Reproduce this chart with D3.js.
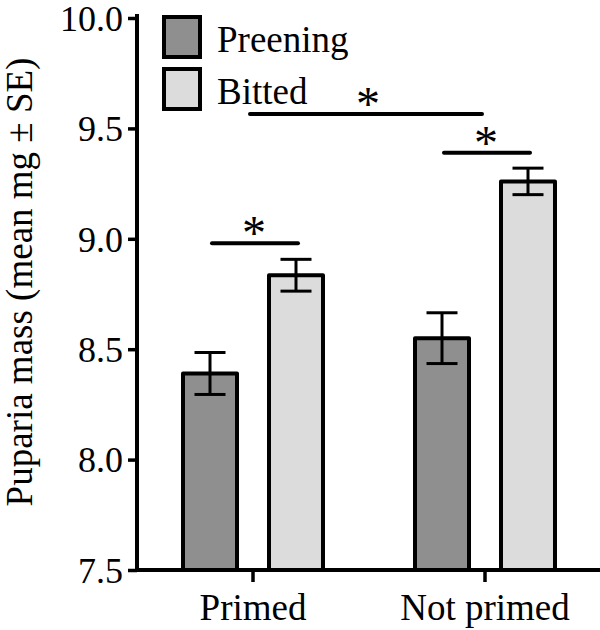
<!DOCTYPE html>
<html>
<head>
<meta charset="utf-8">
<script src="https://cdn.jsdelivr.net/npm/d3@7"></script>
<style>
  html, body { margin: 0; padding: 0; background: #fff; }
  svg { display: block; }
</style>
</head>
<body>
<svg id="chart" width="600" height="630"></svg>
<script>
const groups = ["Primed", "Not primed"];
const series = ["Preening", "Bitted"];
const colors = ["#8f8f8f", "#dcdcdc"];
const preeningMean = [8.39, 8.55];
const preeningSE = [0.095, 0.115];
const bittedMean = [8.835, 9.26];
const bittedSE = [0.072, 0.06];
const yTicks = [7.5, 8.0, 8.5, 9.0, 9.5, 10.0];
const yLabel = "Puparia mass (mean mg \u00b1 SE)";
// significance brackets (level in data units)
const sigFrom = [["Primed", "Preening"], ["Not primed", "Preening"], ["Primed", null]];
const sigTo = [["Primed", "Bitted"], ["Not primed", "Bitted"], ["Not primed", null]];
const sigLevel = [8.98, 9.39, 9.565];

const FONT = '"Liberation Serif", "Times New Roman", Times, serif';
const svg = d3.select("#chart");
const axisX = 137, plotTop = 18, plotBottom = 570, plotRight = 601;

const y = d3.scaleLinear().domain([7.5, 10]).range([plotBottom, plotTop]);
const x0 = d3.scaleBand().domain(groups).range([axisX, plotRight]).paddingInner(0).paddingOuter(0);
const x1 = d3.scaleBand().domain(series).range([0, x0.bandwidth()]).paddingInner(0.372).paddingOuter(0.535);

const data = groups.map((g, i) => ({
  group: g,
  vals: [
    {s: "Preening", m: preeningMean[i], se: preeningSE[i], c: colors[0]},
    {s: "Bitted", m: bittedMean[i], se: bittedSE[i], c: colors[1]}
  ]
}));

const gGroups = svg.selectAll("g.grp").data(data).join("g")
  .attr("class", "grp")
  .attr("transform", d => `translate(${x0(d.group)},0)`);

gGroups.selectAll("rect").data(d => d.vals).join("rect")
  .attr("x", d => x1(d.s))
  .attr("y", d => y(d.m))
  .attr("width", x1.bandwidth())
  .attr("height", d => y(7.5) - y(d.m))
  .attr("fill", d => d.c)
  .attr("stroke", "#000")
  .attr("stroke-width", 4)
  .attr("stroke-linejoin", "round");

const capW = 31;
const cx = d => x1(d.s) + x1.bandwidth() / 2;
const eb = gGroups.selectAll("g.eb").data(d => d.vals).join("g").attr("class", "eb");
eb.append("line")
  .attr("x1", cx).attr("x2", cx)
  .attr("y1", d => y(d.m + d.se))
  .attr("y2", d => y(d.m - d.se));
eb.append("line")
  .attr("x1", d => cx(d) - capW / 2).attr("x2", d => cx(d) + capW / 2)
  .attr("y1", d => y(d.m + d.se)).attr("y2", d => y(d.m + d.se));
eb.append("line")
  .attr("x1", d => cx(d) - capW / 2).attr("x2", d => cx(d) + capW / 2)
  .attr("y1", d => y(d.m - d.se)).attr("y2", d => y(d.m - d.se));
eb.selectAll("line").attr("stroke", "#000").attr("stroke-width", 3);

// Y axis
const yAxis = d3.axisLeft(y).tickValues(yTicks).tickFormat(d3.format(".1f")).tickSize(9).tickPadding(5);
const ya = svg.append("g").attr("transform", `translate(${axisX},0)`).call(yAxis);
ya.select(".domain").remove();
ya.append("line").attr("x1", 0).attr("x2", 0).attr("y1", plotTop - 4).attr("y2", plotBottom + 2)
  .attr("stroke", "#000").attr("stroke-width", 4);
ya.selectAll(".tick line").attr("stroke", "#000").attr("stroke-width", 3.5);
ya.selectAll(".tick text").style("font-family", FONT).style("font-size", "36px")
  .attr("fill", "#000").attr("dy", "0.34em");

// X axis
const xAxis = d3.axisBottom(x0).tickSize(12).tickPadding(12);
const xa = svg.append("g").attr("transform", `translate(0,${plotBottom})`).call(xAxis);
xa.select(".domain").remove();
xa.append("line").attr("x1", axisX - 2).attr("x2", 600).attr("y1", 0).attr("y2", 0)
  .attr("stroke", "#000").attr("stroke-width", 4);
xa.selectAll(".tick line").attr("stroke", "#000").attr("stroke-width", 3.5);
xa.selectAll(".tick text").style("font-family", FONT).style("font-size", "37px")
  .attr("fill", "#000").attr("dy", "0.71em");

// Y label
svg.append("text")
  .attr("transform", `translate(32,282) rotate(-90)`)
  .attr("text-anchor", "middle")
  .style("font-family", FONT).style("font-size", "37px")
  .attr("fill", "#000")
  .text(yLabel);

// Legend
const leg = svg.append("g").selectAll("g").data(series).join("g")
  .attr("transform", (d, i) => `translate(164,${17 + i * 52})`);
leg.append("rect").attr("width", 36).attr("height", 40)
  .attr("fill", (d, i) => colors[i]).attr("stroke", "#000").attr("stroke-width", 4);
leg.append("text").attr("x", 53).attr("y", 35)
  .style("font-family", FONT).style("font-size", "37px")
  .attr("fill", "#000").text(d => d);

// Significance
function xc(p) {
  return p[1] ? x0(p[0]) + x1(p[1]) + x1.bandwidth() / 2 : x0(p[0]) + x0.bandwidth() / 2;
}
const sigs = sigLevel.map((lv, i) => ({from: sigFrom[i], to: sigTo[i], level: lv, pair: !!sigFrom[i][1]}));
const sg = svg.append("g").selectAll("g").data(sigs).join("g");
sg.append("line")
  .attr("x1", d => xc(d.from) + (d.pair ? 2 : -3))
  .attr("x2", d => xc(d.to) + (d.pair ? 2 : -3))
  .attr("y1", d => y(d.level)).attr("y2", d => y(d.level))
  .attr("stroke", "#000").attr("stroke-width", 4).attr("stroke-linecap", "round");
sg.append("text")
  .attr("x", d => (xc(d.from) + xc(d.to)) / 2 + (d.pair ? 1 : -1))
  .attr("y", d => y(d.level) + 6)
  .attr("text-anchor", "middle")
  .style("font-family", FONT).style("font-size", "48px")
  .attr("fill", "#000")
  .text("*");
</script>
</body>
</html>
